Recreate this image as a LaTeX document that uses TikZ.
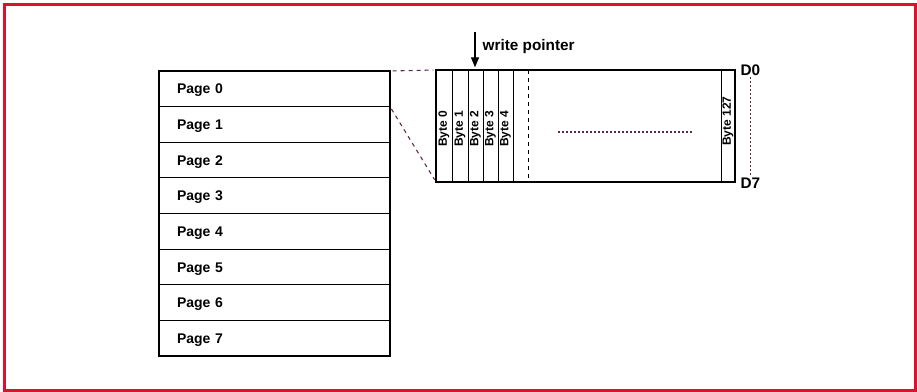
\documentclass[tikz,border=0pt]{standalone}
\usepackage{fontspec}
\setmainfont{Liberation Sans}
\usetikzlibrary{positioning,arrows.meta}
\definecolor{framered}{RGB}{214,20,45}
\definecolor{linkcol}{RGB}{90,40,80}

\begin{document}
\begin{tikzpicture}[x=0.75pt,y=-0.75pt,
  page/.style={draw,line width=0.9pt,outer sep=0pt,minimum height=26.72pt,
    text width=146.25pt,inner xsep=13.5pt,align=left,text height=7.7pt,text depth=0pt,
    font=\fontsize{10.5}{12}\selectfont\bfseries},
  bytelbl/.style={rotate=90,anchor=west,inner sep=0pt,font=\fontsize{9}{10}\selectfont\bfseries},
  link/.style={dashed,draw=linkcol,line width=0.8pt},
  dots/.style={linkcol,dash pattern=on 1.2pt off 1.8pt,line width=1pt},
  tag/.style={font=\fontsize{11.5}{13}\selectfont\bfseries,inner sep=1pt}]
\useasboundingbox (0,0) rectangle (917,392);
\draw[framered,line width=2.25pt] (4.5,4.5) rectangle (915.3,390.3);

\node[page,anchor=north west] (p0) at (159,71) {Page 0};
\foreach \i [remember=\i as \j (initially 0)] in {1,...,7}
  \node[page,below=0pt of p\j] (p\i) {Page \i};
\draw[line width=1.5pt] (p0.north west) rectangle (p7.south east);

\node[draw,line width=1.5pt,outer sep=0pt,minimum width=224.25pt,minimum height=84pt,anchor=north west] (row) at (436,70) {};
\foreach \c in {452,468,483,498,513,721}
  \draw[line width=0.7pt] (\c,70) -- (\c,182);
\draw[dashed,line width=0.6pt] (528,70) -- (528,182);

\foreach \i/\c in {0/444,1/460,2/475.5,3/490.5,4/505.5}
  \node[bytelbl] (b\i) at (\c,147) {Byte \i};
\node[bytelbl] (b127) at (728,146) {Byte 127};

\coordinate (m1) at (558,132);
\coordinate (m2) at (692,132);
\draw[dots] (m1) -- (m2);

\coordinate (wp) at (475,32);
\draw[-{Triangle[length=7.5pt,width=6pt]},line width=0.8pt,shorten >=2pt] (wp) -- (wp |- row.north);
\node[tag,anchor=west] (wptext) at (481,47) {write pointer};

\node[tag,anchor=west] (d0) at ([xshift=3pt]row.north east) {D0};
\node[tag,anchor=west] (d7) at ([xshift=3pt,yshift=-1pt]row.south east) {D7};
\draw[dots] (d0.south) -- (d7.north);

\draw[link,shorten <=2pt,shorten >=2pt] (p0.north east) -- (row.north west);
\draw[link,shorten <=2pt,shorten >=2pt] (p0.south east) -- (row.south west);
\end{tikzpicture}
\end{document}
